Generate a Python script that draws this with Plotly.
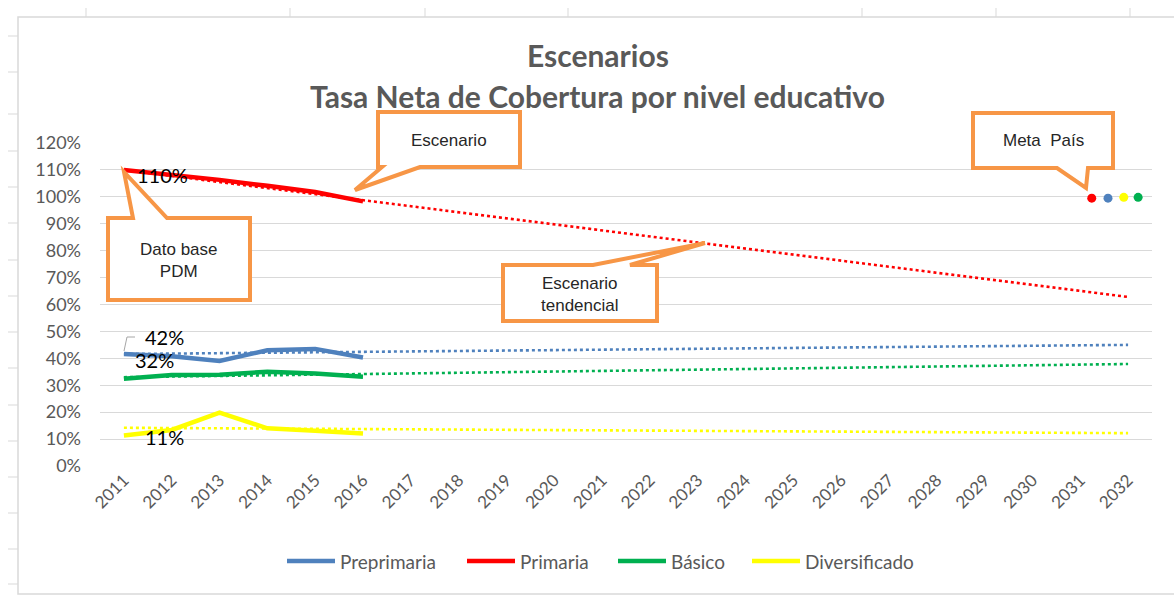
import plotly.graph_objects as go

# ---------------- data ----------------
years = [2011, 2012, 2013, 2014, 2015, 2016]
all_years = list(range(2011, 2033))
preprimaria = [0.416, 0.408, 0.390, 0.430, 0.435, 0.403]
primaria = [1.100, 1.082, 1.063, 1.041, 1.018, 0.983]
basico = [0.324, 0.338, 0.339, 0.350, 0.344, 0.332]
diversificado = [0.113, 0.134, 0.198, 0.140, 0.131, 0.121]

trend_years = [2011, 2032]
trend_preprimaria = [0.416, 0.450]
trend_primaria = [1.100, 0.628]
trend_basico = [0.330, 0.379]
trend_diversificado = [0.142, 0.122]

meta_x = [2031.24, 2031.58, 2031.91, 2032.21]
meta_y = [0.995, 0.995, 0.998, 0.998]

series_names = ["Preprimaria", "Primaria", "Básico", "Diversificado"]
colors = ["#4F81BD", "#FF0000", "#00B050", "#FFFF00"]
meta_colors = ["#FF0000", "#4F81BD", "#FFFF00", "#00B050"]

# ---------------- layout geometry ----------------
W, H = 1174, 597
ML, MR, MT, MB = 100, 22, 143, 131
PW = W - ML - MR
PH = H - MT - MB


def px(X):
    return (X - ML) / PW


def py(Y):
    return (H - MB - Y) / PH


fig = go.Figure()

solid = [preprimaria, primaria, basico, diversificado]
trends = [trend_preprimaria, trend_primaria, trend_basico, trend_diversificado]

for name, tr, c in zip(series_names, trends, colors):
    fig.add_trace(go.Scatter(x=trend_years, y=tr, mode="lines",
                             line=dict(color=c, width=2.6, dash="dot"),
                             showlegend=False, hoverinfo="skip"))

for name, vals, c in zip(series_names, solid, colors):
    fig.add_trace(go.Scatter(x=years, y=vals, mode="lines", name=name,
                             line=dict(color=c, width=4.5), showlegend=False))

fig.add_trace(go.Scatter(x=meta_x, y=meta_y, mode="markers",
                         marker=dict(color=meta_colors, size=9),
                         showlegend=False))

# ---------------- data labels ----------------
lab_font = dict(family="Lato", size=20, color="#000000")
label_specs = [(primaria, 39, -5), (preprimaria, 41, 17), (basico, 31, 19), (diversificado, 41, -1)]
for vals, dx, dy in label_specs:
    fig.add_annotation(x=years[0], y=vals[0], text=f"{round(vals[0]*100)}%",
                       showarrow=False, xshift=dx, yshift=dy, font=lab_font)

shapes = []
# leader line for 42%
shapes.append(dict(type="path", xref="paper", yref="paper",
                   path=f"M {px(124)} {py(351)} L {px(127)} {py(337)} L {px(135)} {py(337)}",
                   line=dict(color="#A6A6A6", width=1)))

# ---------------- callouts ----------------
orange = "#F79646"


def poly(points):
    d = "M " + " L ".join(f"{px(a)},{py(b)}" for a, b in points) + " Z"
    return dict(type="path", xref="paper", yref="paper", path=d,
                line=dict(color=orange, width=4), fillcolor="white", layer="above")


shapes.append(poly([(378, 112), (520, 112), (520, 167), (420, 167), (355, 190), (382, 167), (378, 167)]))
shapes.append(poly([(108, 218), (133, 218), (124, 172), (167, 218), (250, 218), (250, 300), (108, 300)]))
shapes.append(poly([(503, 265), (593, 265), (705, 243), (630, 265), (657, 265), (657, 321), (503, 321)]))
shapes.append(poly([(973, 113), (1113, 113), (1113, 168), (1088, 168), (1086, 188), (1057, 168), (973, 168)]))

# spreadsheet frame
shapes.append(dict(type="rect", xref="paper", yref="paper",
                   x0=px(18), x1=px(1190), y0=py(594), y1=py(17),
                   line=dict(color="#D9D9D9", width=1.5), layer="below"))
for X in [86, 290, 425, 568, 862, 996, 1130]:
    shapes.append(dict(type="line", xref="paper", yref="paper",
                       x0=px(X), x1=px(X), y0=py(8), y1=py(17),
                       line=dict(color="#D9D9D9", width=1)))
for Y in [36, 72, 114, 151, 187, 223, 260, 296, 332, 368, 405, 441, 477, 513, 549, 584]:
    shapes.append(dict(type="line", xref="paper", yref="paper",
                       x0=px(8), x1=px(18), y0=py(Y), y1=py(Y),
                       line=dict(color="#D9D9D9", width=1)))

# ---------------- custom legend ----------------
legend_font = dict(family="Lato", size=19, color="#595959")
legend_x = [287, 467, 618, 752]
legend_y = 561
for name, c, X in zip(series_names, colors, legend_x):
    shapes.append(dict(type="line", xref="paper", yref="paper",
                       x0=px(X), x1=px(X + 48), y0=py(legend_y), y1=py(legend_y),
                       line=dict(color=c, width=4.5)))
    fig.add_annotation(xref="paper", yref="paper", x=px(X + 51), y=py(legend_y), text=name,
                       showarrow=False, font=legend_font, xanchor="left", yanchor="middle")

call_font = dict(family="Liberation Sans", size=17, color="#262626")
texts = [("Escenario", 449, 141), ("Dato base<br>PDM", 179, 260),
         ("Escenario<br>tendencial", 580, 294), ("Meta  País", 1043, 141)]
for t, X, Y in texts:
    fig.add_annotation(xref="paper", yref="paper", x=px(X), y=py(Y), text=t,
                       showarrow=False, font=call_font, align="center",
                       xanchor="center", yanchor="middle")

# titles
title_font = dict(family="Lato", size=30, color="#595959")
fig.add_annotation(xref="paper", yref="paper", x=px(598), y=py(55), text="<b>Escenarios</b>",
                   showarrow=False, font=title_font, xanchor="center", yanchor="middle")
fig.add_annotation(xref="paper", yref="paper", x=px(597), y=py(96),
                   text="<b>Tasa Neta de Cobertura por nivel educativo</b>",
                   showarrow=False, font=title_font, xanchor="center", yanchor="middle")

fig.update_layout(
    width=W, height=H,
    margin=dict(l=ML, r=MR, t=MT, b=MB, autoexpand=False),
    paper_bgcolor="white", plot_bgcolor="white",
    shapes=shapes,
    showlegend=False,
    xaxis=dict(range=[2010.5, 2032.5], tickmode="array", tickvals=all_years,
               ticktext=[str(y) for y in all_years], tickangle=-45, showgrid=False,
               zeroline=False, showline=False,
               tickfont=dict(family="Lato", size=17, color="#595959")),
    yaxis=dict(range=[0, 1.2], dtick=0.1, tickformat=".0%", showgrid=True,
               gridcolor="#D9D9D9", gridwidth=1, zeroline=False, showline=False,
               ticklabelstandoff=18,
               tickfont=dict(family="Lato", size=18, color="#595959")),
)

fig.write_html("out.html", config={"displayModeBar": False},
               post_script="document.body.style.margin='0px';")
